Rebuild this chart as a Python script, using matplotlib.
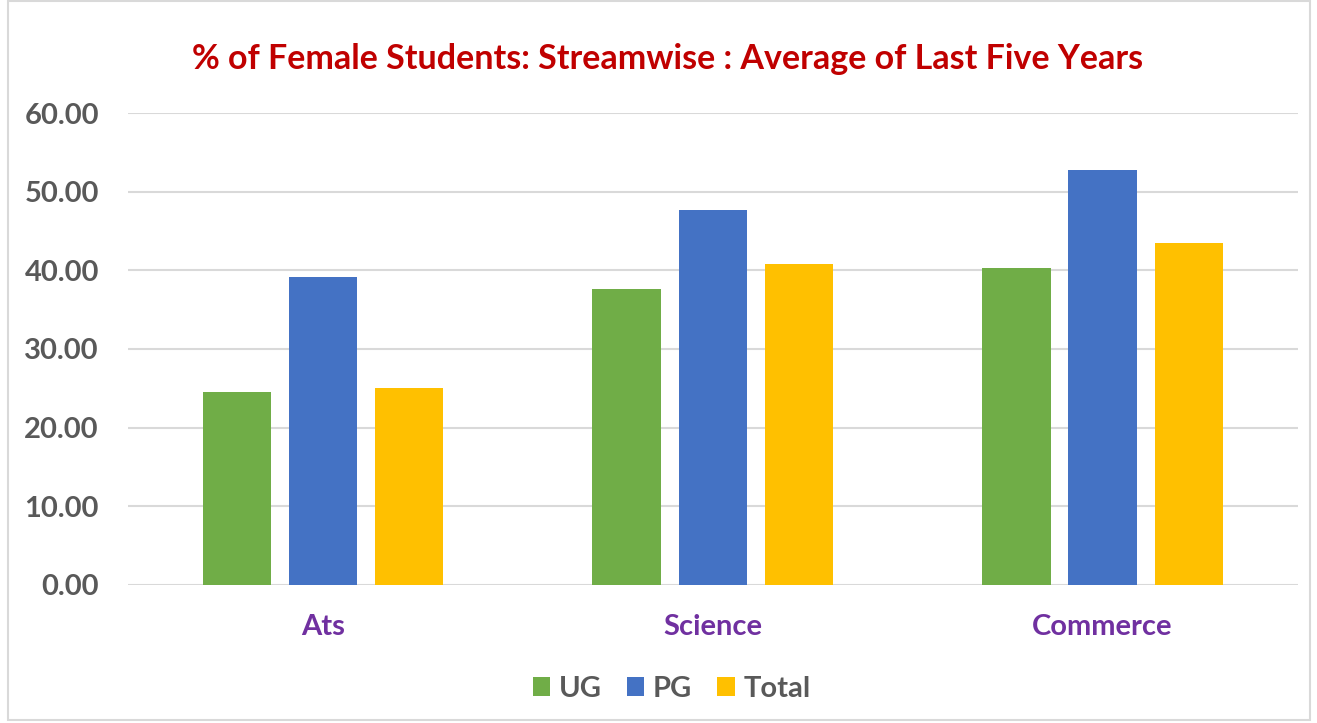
import matplotlib.pyplot as plt
import numpy as np

categories = ["Ats", "Science", "Commerce"]
ug = [24.53, 37.63, 40.26]
pg = [39.19, 47.67, 52.80]
total = [25.08, 40.76, 43.47]

plt.rcParams['font.family'] = ['Lato', 'DejaVu Sans']

fig = plt.figure(figsize=(13.17, 7.23), dpi=100)
ax = fig.add_axes([0.0972, 0.191, 0.888, 0.6527])

x = np.arange(len(categories))
w = 0.175
step = 0.221
ax.bar(x - step, ug, w, color="#70AD47", label="UG", zorder=3)
ax.bar(x, pg, w, color="#4472C4", label="PG", zorder=3)
ax.bar(x + step, total, w, color="#FFC000", label="Total", zorder=3)

ax.set_xlim(-0.5, 2.5)
ax.set_ylim(0, 60)
ax.set_yticks(np.arange(0, 61, 10))
ax.set_yticklabels([f"{v:.2f}" for v in np.arange(0, 61, 10)])
ax.set_xticks(x)
ax.set_xticklabels(categories)
ax.grid(axis="y", color="#D9D9D9", linewidth=1.5, zorder=0)
for s in ax.spines.values():
    s.set_visible(False)
ax.tick_params(length=0)
ax.tick_params(axis="y", labelsize=21, labelcolor="#595959", pad=21)
ax.tick_params(axis="x", labelsize=21, labelcolor="#7030A0", pad=21)
for lbl in ax.get_yticklabels() + ax.get_xticklabels():
    lbl.set_fontweight("bold")

fig.text(0.507, 0.919, "% of Female Students: Streamwise : Average of Last Five Years",
         ha="center", va="center", fontsize=24.5, fontweight="bold", color="#C00000")

leg = fig.legend(loc="center", bbox_to_anchor=(0.51, 0.047), ncol=3, frameon=False,
                 handlelength=0.6, handleheight=0.6, handletextpad=0.3,
                 columnspacing=0.85, prop={"weight": "bold", "size": 21})
for t in leg.get_texts():
    t.set_color("#595959")

fig.patches.append(plt.Rectangle((0.006, 0.004), 0.989, 0.994, transform=fig.transFigure,
                                 fill=False, edgecolor="#D9D9D9", linewidth=1.5))

fig.savefig("out.png", dpi=100)
